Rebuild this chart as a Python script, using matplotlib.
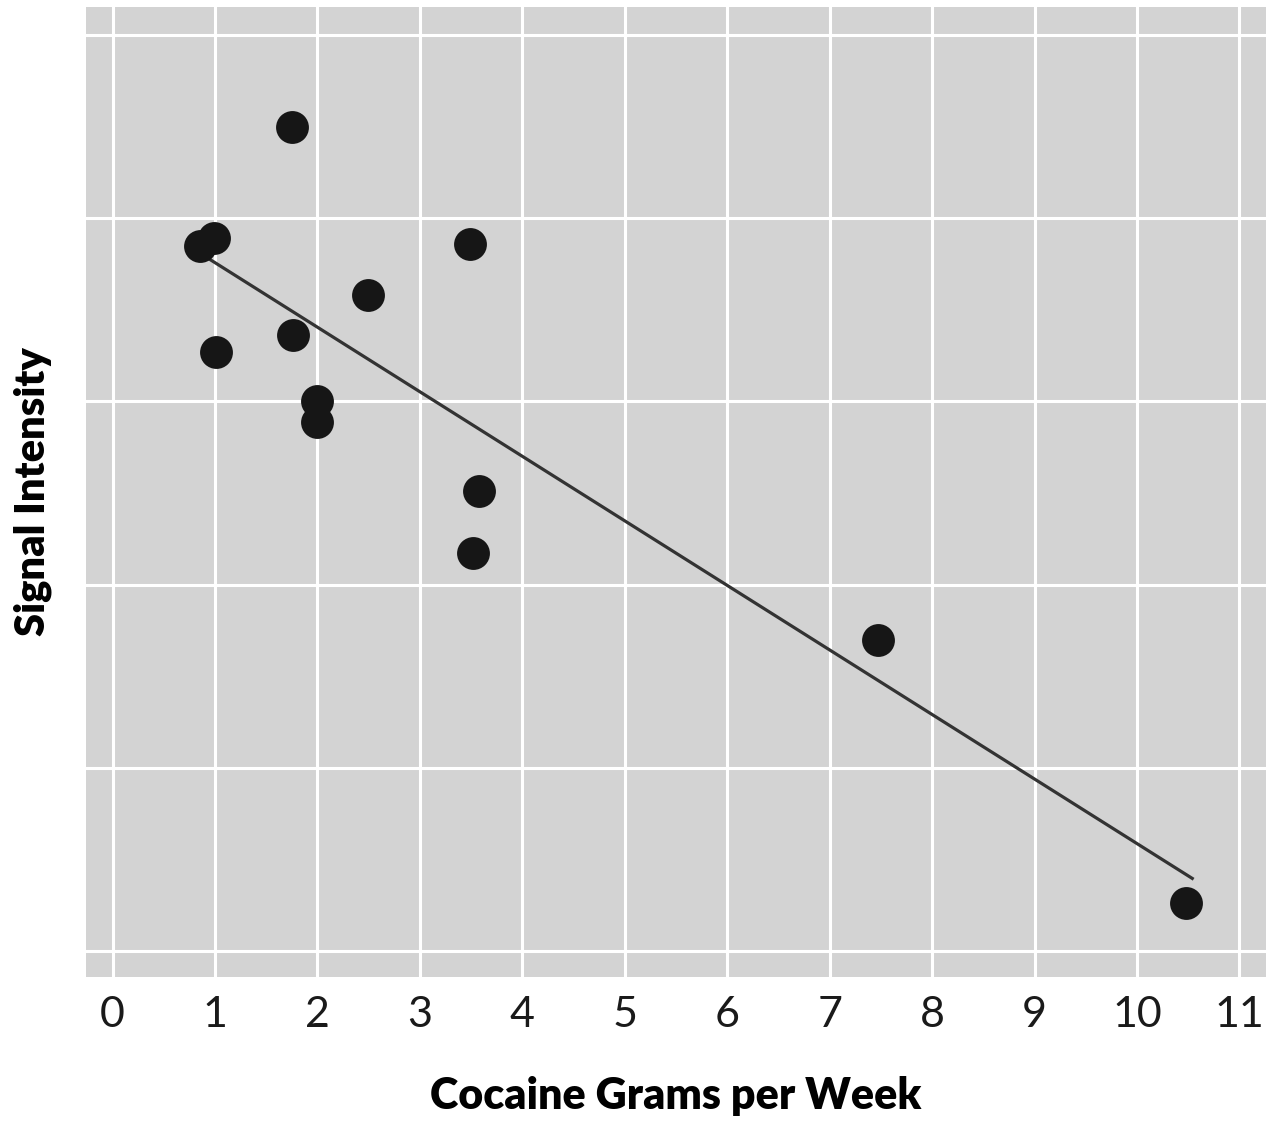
import numpy as np
import matplotlib.pyplot as plt

# cocaine grams per week vs signal intensity (arbitrary units)
grams = [1.75, 0.85, 0.99, 3.49, 2.49, 1.76, 1.01, 2.0, 2.0, 3.58, 3.52, 7.47, 10.48]
signal = [4.50, 3.85, 3.89, 3.86, 3.58, 3.36, 3.27, 3.00, 2.89, 2.51, 2.17, 1.70, 0.26]
x_ticks = list(range(0, 12))

plt.rcParams['font.family'] = ['Lato', 'DejaVu Sans']

fig = plt.figure(figsize=(12.77, 11.21), dpi=100)
ax = fig.add_axes([0.0673, 0.1285, 0.9241, 0.8653])
ax.set_facecolor('#d3d3d3')

ax.scatter(grams, signal, s=560, color='#161616', zorder=3, linewidths=0)

# least squares fit line
m, b = np.polyfit(grams, signal, 1)
xs = np.array([min(grams) + 0.03, max(grams) + 0.06])
ax.plot(xs, m * xs + b, color='#333333', lw=2.3, zorder=2)

ax.set_xlim(-0.26, 11.26)
ax.set_ylim(-0.142, 5.153)
ax.set_xticks(x_ticks)
ax.set_yticks(range(0, 6))
ax.set_yticklabels([])
ax.grid(True, color='white', lw=2.2)
ax.set_axisbelow(True)
ax.tick_params(length=0, labelsize=31, pad=14, colors='#1a1a1a')
for s in ax.spines.values():
    s.set_visible(False)

ax.set_xlabel('Cocaine Grams per Week', fontsize=31, fontweight='heavy', labelpad=30)
ax.set_ylabel('Signal Intensity', fontsize=30, fontweight='heavy', va='center')
ax.yaxis.set_label_coords(-0.045, 0.5)

fig.savefig('out.png')
